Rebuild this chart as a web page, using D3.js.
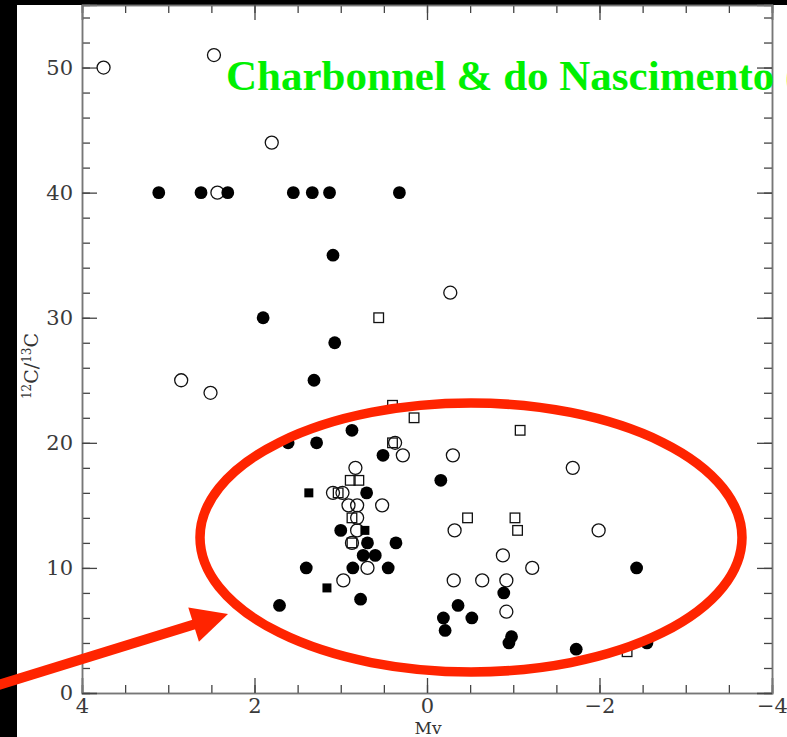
<!DOCTYPE html>
<html>
<head>
<meta charset="utf-8">
<script src="https://cdn.jsdelivr.net/npm/d3@7"></script>
<style>
  body { margin: 0; background: #000; }
  svg { display: block; }
  .tick text { font-family: "DejaVu Serif", serif; font-size: 21px; fill: #3a3a3a; }
</style>
</head>
<body>
<div id="chart"></div>
<script>
// filled circles
var filledMv    = [3.11, 2.62, 2.31, 1.55, 1.33, 1.13, 0.32, 1.09, 1.90, 1.07, 1.31, 1.61, 1.28, 0.87, 0.51, -0.16, 0.70, 1.00, 0.69, 0.36, 0.74, 0.60, 0.86, 1.40, 0.45, 1.71, 0.77, -0.36, -0.19, -0.52, -0.21, -0.89, -0.98, -0.95, -1.73, -2.43, -2.55];
var filledRatio = [40, 40, 40, 40, 40, 40, 40, 35, 30, 28, 25, 20, 20, 21, 19, 17, 16, 13, 12, 12, 11, 11, 10, 10, 10, 7, 7.5, 7, 6, 6, 5, 8, 4.5, 4, 3.5, 10, 4];
// open circles
var openMv    = [3.75, 2.47, 2.43, 1.80, -0.27, 2.85, 2.51, 0.37, 0.28, -0.30, 0.83, 1.09, 0.98, 0.52, 0.91, 0.81, 0.81, 0.81, 0.87, 0.69, 0.97, -0.32, -0.31, -0.64, -0.88, -0.92, -0.92, -1.22, -1.69, -1.99];
var openRatio = [50, 51, 40, 44, 32, 25, 24, 20, 19, 19, 18, 16, 16, 15, 15, 15, 14, 13, 12, 10, 9, 13, 9, 9, 11, 9, 6.5, 10, 18, 13];
// open squares
var sqMv    = [0.56, 0.40, 0.15, -1.08, 0.40, 0.89, 0.79, 1.03, 0.87, -0.47, 0.87, -1.02, -1.05, -2.32];
var sqRatio = [30, 23, 22, 21, 20, 17, 17, 16, 14, 14, 12, 14, 13, 3.3];
// filled squares
var fsqMv    = [1.37, 0.72, 1.16];
var fsqRatio = [16, 13, 8.4];

var xMajor = [4, 2, 0, -2, -4];
var yMajor = [0, 10, 20, 30, 40, 50];

var width = 787, height = 737;
var plotL = 82, plotR = 772, plotT = 5, plotB = 693;

var svg = d3.select('#chart').append('svg')
    .attr('width', width)
    .attr('height', height);

svg.append('rect').attr('width', width).attr('height', height).attr('fill', '#000');
svg.append('rect').attr('x', 17).attr('y', 5).attr('width', width - 17).attr('height', height - 5).attr('fill', '#fff');

var x = d3.scaleLinear().domain([4, -4]).range([plotL, plotR]);
var y = d3.scaleLinear().domain([0, 55]).range([plotB, plotT]);

var xMinor = d3.range(-4, 4.01, 0.5);
var yMinor = d3.range(0, 55, 2);

function styleAxis(g) {
    g.select('.domain').attr('stroke', '#777').attr('stroke-width', 1.5).attr('fill', 'none');
    g.selectAll('.tick line').attr('stroke', '#444').attr('stroke-width', 1.3);
}

// minor ticks
svg.append('g').attr('transform', 'translate(0,' + plotB + ')')
    .call(d3.axisBottom(x).tickValues(xMinor).tickSize(-8).tickFormat(''))
    .call(styleAxis);
svg.append('g').attr('transform', 'translate(0,' + plotT + ')')
    .call(d3.axisTop(x).tickValues(xMinor).tickSize(-8).tickFormat(''))
    .call(styleAxis);
svg.append('g').attr('transform', 'translate(' + plotL + ',0)')
    .call(d3.axisLeft(y).tickValues(yMinor).tickSize(-8).tickFormat(''))
    .call(styleAxis);
svg.append('g').attr('transform', 'translate(' + plotR + ',0)')
    .call(d3.axisRight(y).tickValues(yMinor).tickSize(-8).tickFormat(''))
    .call(styleAxis);

// major ticks
svg.append('g').attr('transform', 'translate(0,' + plotB + ')')
    .call(d3.axisBottom(x).tickValues(xMajor).tickSize(-15).tickPadding(5).tickFormat(d3.format('d')))
    .call(styleAxis);
svg.append('g').attr('transform', 'translate(0,' + plotT + ')')
    .call(d3.axisTop(x).tickValues(xMajor).tickSize(-15).tickFormat(''))
    .call(styleAxis);
svg.append('g').attr('transform', 'translate(' + plotL + ',0)')
    .call(d3.axisLeft(y).tickValues(yMajor).tickSize(-15).tickPadding(9).tickFormat(d3.format('d')))
    .call(styleAxis);
svg.append('g').attr('transform', 'translate(' + plotR + ',0)')
    .call(d3.axisRight(y).tickValues(yMajor).tickSize(-15).tickFormat(''))
    .call(styleAxis);

// axis titles
svg.append('text')
    .attr('x', 428).attr('y', 734)
    .attr('text-anchor', 'middle')
    .style('font-family', '"DejaVu Serif", serif')
    .style('font-size', '17px')
    .attr('fill', '#333')
    .text('Mv');

var ylab = svg.append('text')
    .attr('transform', 'translate(38,366) rotate(-90)')
    .attr('text-anchor', 'middle')
    .style('font-family', '"DejaVu Serif", serif')
    .style('font-size', '19px')
    .attr('fill', '#333');
ylab.append('tspan').style('font-size', '12px').attr('dy', '-7').text('12');
ylab.append('tspan').attr('dy', '7').text('C/');
ylab.append('tspan').style('font-size', '12px').attr('dy', '-7').text('13');
ylab.append('tspan').attr('dy', '7').text('C');

// points
var openData = openMv.map(function(d, i) { return { mv: d, r: openRatio[i] }; });
var sqData = sqMv.map(function(d, i) { return { mv: d, r: sqRatio[i] }; });
var filledData = filledMv.map(function(d, i) { return { mv: d, r: filledRatio[i] }; });
var fsqData = fsqMv.map(function(d, i) { return { mv: d, r: fsqRatio[i] }; });

svg.append('g').selectAll('circle')
    .data(openData).enter().append('circle')
    .attr('cx', function(d) { return x(d.mv); })
    .attr('cy', function(d) { return y(d.r); })
    .attr('r', 6.5)
    .attr('fill', 'none')
    .attr('stroke', '#111')
    .attr('stroke-width', 1.3);

svg.append('g').selectAll('rect')
    .data(sqData).enter().append('rect')
    .attr('x', function(d) { return x(d.mv) - 4.8; })
    .attr('y', function(d) { return y(d.r) - 4.8; })
    .attr('width', 9.6).attr('height', 9.6)
    .attr('fill', 'none')
    .attr('stroke', '#111')
    .attr('stroke-width', 1.3);

svg.append('g').selectAll('circle')
    .data(filledData).enter().append('circle')
    .attr('cx', function(d) { return x(d.mv); })
    .attr('cy', function(d) { return y(d.r); })
    .attr('r', 6.4)
    .attr('fill', '#000');

svg.append('g').selectAll('rect')
    .data(fsqData).enter().append('rect')
    .attr('x', function(d) { return x(d.mv) - 4.5; })
    .attr('y', function(d) { return y(d.r) - 4.5; })
    .attr('width', 9).attr('height', 9)
    .attr('fill', '#000');

// title
svg.append('text')
    .attr('x', 226).attr('y', 90)
    .style('font-family', '"Liberation Serif", "Times New Roman", serif')
    .style('font-weight', 'bold')
    .style('font-size', '43px')
    .attr('fill', '#00f000')
    .text('Charbonnel & do Nascimento (');

// red ellipse + arrow annotation
svg.append('ellipse')
    .attr('cx', 471).attr('cy', 537.5)
    .attr('rx', 271).attr('ry', 134.5)
    .attr('fill', 'none')
    .attr('stroke', '#ff2400')
    .attr('stroke-width', 9.5);

var tip = [228, 614], tail = [-5, 686];
var ang = Math.atan2(tip[1] - tail[1], tip[0] - tail[0]);
var headLen = 36, headW = 18;
var bx = tip[0] - headLen * Math.cos(ang), by = tip[1] - headLen * Math.sin(ang);
svg.append('line')
    .attr('x1', tail[0]).attr('y1', tail[1])
    .attr('x2', bx + 2 * Math.cos(ang)).attr('y2', by + 2 * Math.sin(ang))
    .attr('stroke', '#ff2400')
    .attr('stroke-width', 10);
svg.append('path')
    .attr('d', 'M' + tip[0] + ',' + tip[1] +
        'L' + (bx - headW * Math.sin(ang)) + ',' + (by + headW * Math.cos(ang)) +
        'L' + (bx + headW * Math.sin(ang)) + ',' + (by - headW * Math.cos(ang)) + 'Z')
    .attr('fill', '#ff2400');
</script>
</body>
</html>
